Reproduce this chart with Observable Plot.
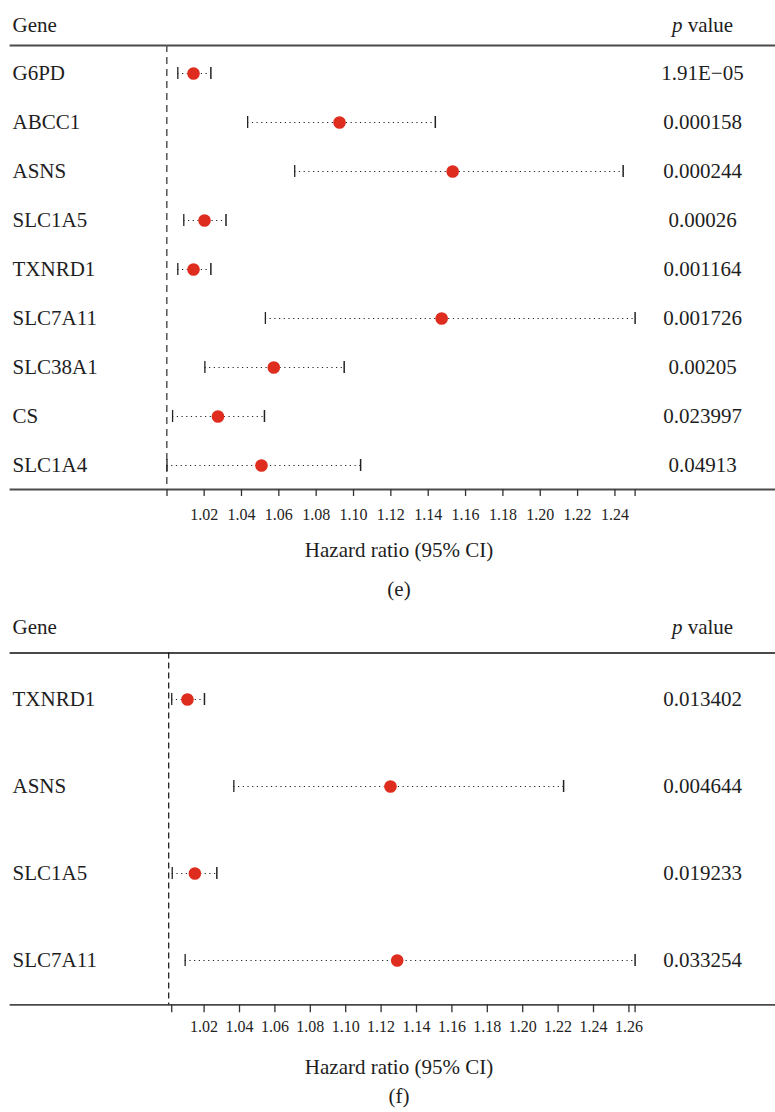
<!DOCTYPE html>
<html>
<head>
<meta charset="utf-8">
<script src="https://cdn.jsdelivr.net/npm/d3@7"></script>
<script src="https://cdn.jsdelivr.net/npm/@observablehq/plot@0.6"></script>
<style>
  html, body { margin: 0; padding: 0; background: #fff; }
  #chart svg { display: block; }
</style>
</head>
<body>
<div id="chart"></div>
<script>
// ---- Panel (e) data ----
const genesE = ["G6PD", "ABCC1", "ASNS", "SLC1A5", "TXNRD1", "SLC7A11", "SLC38A1", "CS", "SLC1A4"];
const hrE    = [1.0143, 1.0925, 1.1531, 1.0202, 1.0143, 1.1472, 1.0573, 1.0274, 1.0507];
const lowerE = [1.0059, 1.0433, 1.0685, 1.0091, 1.0059, 1.0528, 1.0204, 1.0031, 1.0001];
const upperE = [1.0236, 1.1438, 1.2444, 1.0317, 1.0236, 1.2508, 1.0950, 1.0523, 1.1038];
const pE     = ["1.91E\u221205", "0.000158", "0.000244", "0.00026", "0.001164", "0.001726", "0.00205", "0.023997", "0.04913"];
const ticksE = ["1.02", "1.04", "1.06", "1.08", "1.10", "1.12", "1.14", "1.16", "1.18", "1.20", "1.22", "1.24"];

// ---- Panel (f) data ----
const genesF = ["TXNRD1", "ASNS", "SLC1A5", "SLC7A11"];
const hrF    = [1.0106, 1.1253, 1.0148, 1.1291];
const lowerF = [1.0017, 1.0368, 1.0020, 1.0093];
const upperF = [1.0202, 1.2231, 1.0272, 1.2635];
const pF     = ["0.013402", "0.004644", "0.019233", "0.033254"];
const ticksF = ["1.02", "1.04", "1.06", "1.08", "1.10", "1.12", "1.14", "1.16", "1.18", "1.20", "1.22", "1.24", "1.26"];

const headers = ["Gene", "p value"];
const xLabel = "Hazard ratio (95% CI)";
const refValue = 1;

const FONT = "'Liberation Serif', 'Times New Roman', Times, serif";

function panel(cfg) {
  const rows = cfg.genes.map((g, i) => ({gene: g, hr: cfg.hr[i], lower: cfg.lower[i], upper: cfg.upper[i], p: cfg.p[i]}));
  const minL = d3.min(rows, d => d.lower);
  const maxU = d3.max(rows, d => d.upper);
  const tickVals = cfg.ticks.map(Number);
  const fmt = d => {
    const t = cfg.ticks.find(s => Math.abs(+s - d) < 1e-9);
    return t === undefined ? "" : t;
  };
  const svg = Plot.plot({
    width: 775,
    height: cfg.height,
    marginTop: cfg.top,
    marginBottom: cfg.height - cfg.axisY,
    marginLeft: 10,
    marginRight: 0,
    style: {fontFamily: FONT, fontSize: "21px", color: "#1e1e1e", background: "#fff", overflow: "visible"},
    x: {domain: [refValue, maxU], range: cfg.xRange},
    y: {type: "point", domain: cfg.genes, range: cfg.yRange, padding: 0.5, axis: null},
    marks: [
      Plot.frame({anchor: "top", stroke: "#4a4a4a", strokeWidth: 1.8}),
      Plot.frame({anchor: "bottom", stroke: "#4a4a4a", strokeWidth: 1.8}),
      Plot.ruleX([refValue], {stroke: cfg.refColor, strokeWidth: cfg.refWidth, strokeDasharray: cfg.dash}),
      Plot.axisX(tickVals, {tickSize: cfg.tickSize, tickPadding: cfg.tp, tickFormat: fmt, label: null,
        fontSize: 16, stroke: "#333", strokeWidth: 1.3, color: "#222"}),
      Plot.axisX([minL, maxU], {tickSize: cfg.tickSize, tickFormat: () => "", label: null, stroke: "#333", strokeWidth: 1.3}),
      Plot.ruleY(rows, {y: "gene", x1: "lower", x2: "upper", stroke: "#222", strokeWidth: 1.2, strokeDasharray: "1.2,3.5"}),
      Plot.ruleX(rows, {x: "lower", y1: "gene", y2: "gene", insetTop: -6, insetBottom: -6, stroke: "#222", strokeWidth: 1.3}),
      Plot.ruleX(rows, {x: "upper", y1: "gene", y2: "gene", insetTop: -6, insetBottom: -6, stroke: "#222", strokeWidth: 1.5}),
      Plot.dot(rows, {x: "hr", y: "gene", r: 6.3, fill: "#de2c1e", stroke: null}),
      Plot.text(rows, {y: "gene", text: "gene", frameAnchor: "left", textAnchor: "start", lineAnchor: "middle", dx: 2, fill: "#1e1e1e"}),
      Plot.text(rows, {y: "gene", text: "p", frameAnchor: "right", textAnchor: "middle", lineAnchor: "middle", dx: -73, fill: "#1e1e1e"}),
      Plot.text([headers[0]], {text: d => d, frameAnchor: "top-left", textAnchor: "start", lineAnchor: "middle", dx: 2, dy: cfg.headDy, fill: "#1e1e1e"}),
      Plot.text([headers[1]], {text: d => d, frameAnchor: "top-right", textAnchor: "middle", lineAnchor: "middle", dx: -73, dy: cfg.headDy, fill: "#1e1e1e"}),
      Plot.text([xLabel], {text: d => d, frameAnchor: "bottom", lineAnchor: "middle", dx: 6, dy: cfg.labDy, fill: "#1e1e1e"}),
      Plot.text([cfg.caption], {text: d => d, frameAnchor: "bottom", lineAnchor: "middle", dx: 6, dy: cfg.capDy, fill: "#1e1e1e"})
    ]
  });
  d3.select(svg).selectAll("text").filter(function () { return this.textContent === "p value"; })
    .each(function () {
      const t = d3.select(this);
      t.text(null);
      t.append("tspan").attr("font-style", "italic").text("p");
      t.append("tspan").text(" value");
    });
  return svg;
}

const chart = document.getElementById("chart");
chart.appendChild(panel({
  genes: genesE, hr: hrE, lower: lowerE, upper: upperE, p: pE, ticks: ticksE,
  height: 605, top: 45, axisY: 489, yRange: [48, 489], xRange: [166.3, 634.6],
  headDy: -20, tp: 12.2, tickSize: 7, labDy: 61, capDy: 100,
  refColor: "#555", refWidth: 1.5, dash: "7,5", caption: "(e)"
}));
chart.appendChild(panel({
  genes: genesF, hr: hrF, lower: lowerF, upper: upperF, p: pF, ticks: ticksF,
  height: 507, top: 47.5, axisY: 399.3, yRange: [48.8, 400.2], xRange: [168.2, 634.6],
  headDy: -25.8, tp: 7.9, tickSize: 8, labDy: 62, capDy: 91,
  refColor: "#111", refWidth: 1.2, dash: "6,4", caption: "(f)"
}));
</script>
</body>
</html>
